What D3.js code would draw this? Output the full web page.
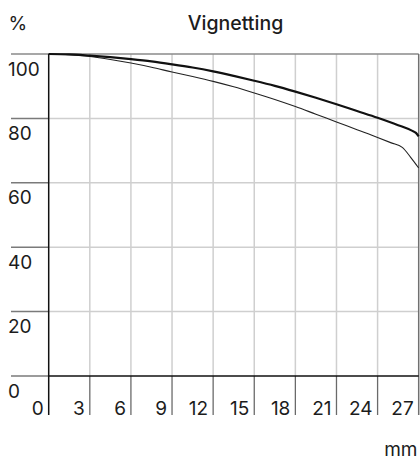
<!DOCTYPE html>
<html>
<head>
<meta charset="utf-8">
<script src="https://cdn.jsdelivr.net/npm/d3@7"></script>
<style>
  html, body { margin: 0; padding: 0; background: #fff; }
  svg { display: block; }
  text { font-family: Inter, Roboto, "Noto Sans", sans-serif; fill: #1c1c1c; }
</style>
</head>
<body>
<svg id="chart" width="420" height="461"></svg>
<script>
// ---- data ----
const xTicks = [0, 3, 6, 9, 12, 15, 18, 21, 24, 27];
const yTicks = [0, 20, 40, 60, 80, 100];
const titleText = "Vignetting";
const yUnit = "%";
const xUnit = "mm";

// thick curve
const mmThick  = [0, 1.5, 3, 4.5, 6, 7.5, 9, 10.5, 12, 13.5, 15, 16.5, 18, 19.5, 21, 22.5, 24, 25.5, 26.5, 26.8, 27];
const valThick = [100, 99.9, 99.5, 99.0, 98.4, 97.7, 96.8, 95.8, 94.6, 93.2, 91.7, 90.1, 88.3, 86.4, 84.4, 82.3, 80.2, 77.9, 76.2, 75.5, 74.4];

// thin curve
const mmThin  = [0, 1.5, 3, 4.5, 6, 7.5, 9, 10.5, 12, 13.5, 15, 16.5, 18, 19.5, 21, 22.5, 24, 25, 25.8, 26.4, 27];
const valThin = [100, 99.8, 99.2, 98.3, 97.2, 95.9, 94.4, 93.0, 91.5, 89.8, 87.9, 85.9, 83.7, 81.3, 78.9, 76.5, 74.1, 72.4, 71.0, 68.0, 64.6];

(function () {
const svg = d3.select("#chart");
const pLeft = 48.7, pRight = 418.7, pTop = 54, pBottom = 376;
const outerLeft = 11, tickBottom = 415;

const x = d3.scaleLinear().domain([0, 27]).range([pLeft, pRight]);
const y = d3.scaleLinear().domain([0, 100]).range([pBottom, pTop]);

svg.append("g").selectAll("line")
  .data(yTicks.filter(d => d > 0 && d < 100)).join("line")
  .attr("x1", pLeft).attr("x2", pRight)
  .attr("y1", d => y(d)).attr("y2", d => y(d))
  .attr("stroke", "#cfcfcf").attr("stroke-width", 1.5);

svg.append("g").selectAll("line")
  .data(xTicks.filter(d => d > 0 && d < 27)).join("line")
  .attr("x1", d => x(d)).attr("x2", d => x(d))
  .attr("y1", pTop).attr("y2", pBottom)
  .attr("stroke", "#cfcfcf").attr("stroke-width", 1.5);

svg.append("line")
  .attr("x1", outerLeft).attr("x2", pRight)
  .attr("y1", y(100)).attr("y2", y(100))
  .attr("stroke", "#8a8a8a").attr("stroke-width", 1.5);

svg.append("line")
  .attr("x1", x(27)).attr("x2", x(27))
  .attr("y1", pTop).attr("y2", tickBottom)
  .attr("stroke", "#707070").attr("stroke-width", 1.5);

svg.append("g").selectAll("line")
  .data(yTicks.filter(d => d < 100)).join("line")
  .attr("x1", outerLeft).attr("x2", pLeft)
  .attr("y1", d => y(d)).attr("y2", d => y(d))
  .attr("stroke", "#7a7a7a").attr("stroke-width", 1.5);

svg.append("g").selectAll("line")
  .data(xTicks.filter(d => d > 0 && d < 27)).join("line")
  .attr("x1", d => x(d)).attr("x2", d => x(d))
  .attr("y1", pBottom).attr("y2", tickBottom)
  .attr("stroke", "#6a6a6a").attr("stroke-width", 1.3);

svg.append("line")
  .attr("x1", pLeft).attr("x2", pRight)
  .attr("y1", pBottom).attr("y2", pBottom)
  .attr("stroke", "#111").attr("stroke-width", 1.5);

svg.append("line")
  .attr("x1", pLeft).attr("x2", pLeft)
  .attr("y1", pTop).attr("y2", tickBottom)
  .attr("stroke", "#111").attr("stroke-width", 1.5);

const line = d3.line().x(d => x(d[0])).y(d => y(d[1])).curve(d3.curveMonotoneX);
svg.append("path")
  .datum(d3.zip(mmThin, valThin))
  .attr("d", line).attr("fill", "none")
  .attr("stroke", "#222").attr("stroke-width", 1.1);
svg.append("path")
  .datum(d3.zip(mmThick, valThick))
  .attr("d", line).attr("fill", "none")
  .attr("stroke", "#111").attr("stroke-width", 2.2);

svg.append("g").selectAll("text")
  .data(yTicks).join("text")
  .attr("x", 8).attr("y", d => y(d) + 21.5)
  .attr("font-size", 19)
  .text(d => d);

svg.append("g").selectAll("text")
  .data(xTicks).join("text")
  .attr("x", d => x(d) - 5).attr("y", 414.5)
  .attr("text-anchor", "end")
  .attr("font-size", 19)
  .text(d => d);

svg.append("text").attr("x", 8.5).attr("y", 29.5).attr("font-size", 19).text(yUnit);
svg.append("text").attr("x", 417.5).attr("y", 455.5).attr("text-anchor", "end").attr("font-size", 19).text(xUnit);
svg.append("text").attr("x", 235.5).attr("y", 30).attr("text-anchor", "middle")
  .attr("font-size", 19.5).attr("font-weight", 500).text(titleText);
})();
</script>
</body>
</html>
